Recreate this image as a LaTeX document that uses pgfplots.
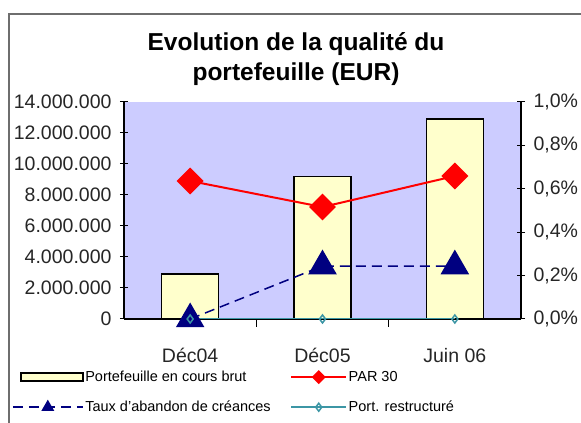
\documentclass[border=0pt]{standalone}
\usepackage{pgfplots}
\pgfplotsset{compat=1.18}
\usepackage{fontspec}
\setmainfont{Liberation Sans}
\definecolor{plotbg}{RGB}{204,204,255}
\definecolor{barfill}{RGB}{255,255,204}
\definecolor{navyc}{RGB}{0,0,128}
\definecolor{tealc}{RGB}{60,150,165}
\definecolor{framegray}{RGB}{110,110,110}
\definecolor{redc}{RGB}{255,0,0}
\pgfplotsset{
  barleg/.style={legend image code/.code={\draw[fill=barfill,draw=black,line width=2pt] (8pt,-4pt) rectangle (70pt,4pt);}},
  longleg/.style={legend image code/.code={\draw[mark repeat=2,mark phase=2,##1,mark size=6pt] plot coordinates {(0pt,0pt) (35pt,0pt) (70pt,0pt)};}},
  shortleg/.style={legend image code/.code={\draw[mark repeat=2,mark phase=2,##1] plot coordinates {(0pt,0pt) (27.5pt,0pt) (55pt,0pt)};}},
  redleg/.style={legend image code/.code={\draw[mark repeat=2,mark phase=2,##1,mark size=4pt] plot coordinates {(0pt,0pt) (27.5pt,0pt) (55pt,0pt)};}},
}
\begin{document}
\begin{tikzpicture}[x=1pt,y=1pt]
\useasboundingbox (0,0) rectangle (581,423);
\fill[white] (0,0) rectangle (581,423);
\draw[framegray,line width=2pt] (9,0) -- (9,409) -- (581,409);
\node[font=\bfseries\fontsize{24.5}{30}\selectfont, align=center] at (296,364) {Evolution de la qualité du\\portefeuille (EUR)};
\begin{axis}[
  at={(124pt,104pt)}, anchor=south west,
  scale only axis, width=397pt, height=217pt,
  xmin=-0.5, xmax=2.5, ymin=0, ymax=14000000,
  axis y line*=left, axis x line*=bottom,
  axis line style={black, line width=1.2pt},
  axis background/.style={fill=plotbg},
  ytick={0,2000000,4000000,6000000,8000000,10000000,12000000,14000000},
  yticklabels={0,2.000.000,4.000.000,6.000.000,8.000.000,10.000.000,12.000.000,14.000.000},
  scaled y ticks=false,
  tick align=center, major tick length=8pt,
  tick style={black, line width=1pt},
  xtick={0.5,1.5}, xticklabels={},
  extra x ticks={0,1,2},
  extra x tick labels={Déc04,Déc05,Juin 06},
  extra x tick style={major tick length=0pt, xticklabel style={yshift=-26pt}},
  ticklabel style={font=\fontsize{19.5}{22}\selectfont, text=black!85},
  yticklabel style={xshift=-5pt},
  /pgf/number format/assume math mode=true,
  ybar, bar width=0.43, bar shift=0pt,
]
\addplot[fill=barfill, draw=black, line width=1.5pt] coordinates {(0,2900000) (1,9200000) (2,12900000)};
\end{axis}
\begin{axis}[
  at={(124pt,104pt)}, anchor=south west,
  scale only axis, width=397pt, height=217pt,
  xmin=-0.5, xmax=2.5, ymin=0, ymax=1,
  axis y line*=right, axis x line=none,
  axis line style={black, line width=1.2pt},
  ytick={0,0.2,0.4,0.6,0.8,1},
  yticklabels={{0,0\%},{0,2\%},{0,4\%},{0,6\%},{0,8\%},{1,0\%}},
  tick align=center, major tick length=8pt,
  tick style={black, line width=1pt},
  ticklabel style={font=\fontsize{19.5}{22}\selectfont, text=black!85},
  yticklabel style={xshift=5pt},
  /pgf/number format/assume math mode=true,
  legend columns=2,
  legend cell align=left,
  legend style={at={(-0.29,-0.223)}, anchor=north west, draw=none, fill=none,
    font=\fontsize{14.5}{16}\selectfont, row sep=15pt,
    nodes={inner sep=1.5pt},
    /tikz/every even column/.append style={column sep=18pt}},
]
\addlegendimage{barleg}
\addlegendentry{Portefeuille en cours brut}
\addplot[redc, line width=2pt, mark=square*, mark size=8.5pt, mark options={rotate=45, solid, fill=redc, draw=redc}, redleg]
  coordinates {(0,0.636) (1,0.516) (2,0.659)};
\addlegendentry{PAR 30}
\addplot[navyc, line width=1.5pt, dash pattern=on 10pt off 6pt, mark=triangle*, mark size=15pt, mark options={solid, fill=navyc, draw=navyc}, longleg]
  coordinates {(0,0) (1,0.244) (2,0.244)};
\addlegendentry{Taux d'abandon de créances}
\addplot[tealc, line width=1.5pt, mark=diamond, mark size=4pt, mark options={solid, fill=white, draw=tealc}, shortleg]
  coordinates {(0,0) (1,0) (2,0)};
\addlegendentry{Port. restructuré}
\end{axis}
\end{tikzpicture}
\end{document}
